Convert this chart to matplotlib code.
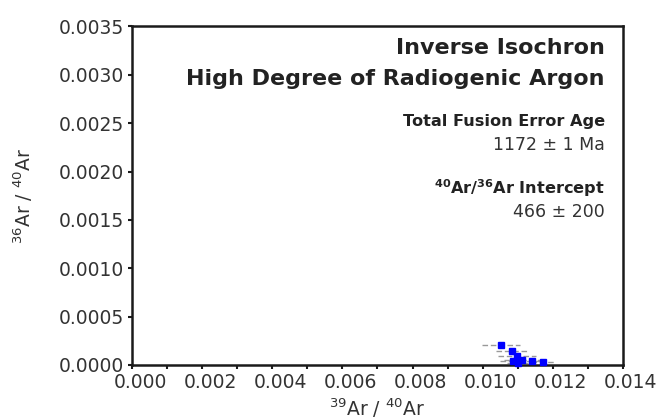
import matplotlib
matplotlib.use("Agg")
import matplotlib.pyplot as plt
import matplotlib.transforms as mtransforms
from matplotlib.ticker import MultipleLocator

plt.rcParams['font.family'] = ['DejaVu Sans']
plt.rcParams['mathtext.fontset'] = 'dejavusans'

# step data
ar39_ar40 = [0.01052, 0.01083, 0.01098, 0.01085, 0.01112, 0.01140, 0.01172, 0.01100]
ar36_ar40 = [0.000205, 0.000140, 0.000095, 0.000040, 0.000055, 0.000045, 0.000030, 0.000020]
x_err = [0.00055, 0.00045, 0.00055, 0.00035, 0.00050, 0.00040, 0.00035, 0.00030]

x_ticks = [0.000, 0.002, 0.004, 0.006, 0.008, 0.010, 0.012, 0.014]
y_ticks = [0.0000, 0.0005, 0.0010, 0.0015, 0.0020, 0.0025, 0.0030, 0.0035]

fig = plt.figure(figsize=(6.69, 4.19), dpi=100)
ax = fig.add_axes([0.1973, 0.1289, 0.7339, 0.8079])

eb = ax.errorbar(ar39_ar40, ar36_ar40, xerr=x_err, fmt='none', ecolor='#999999',
                 elinewidth=1, capsize=0, zorder=2)
eb[2][0].set_linestyle((0, (4, 2)))
ax.plot(ar39_ar40, ar36_ar40, 's', color='#0000ff', markersize=5, zorder=3,
        clip_on=False)

ax.set_xlim(0, 0.014)
ax.set_ylim(0, 0.0035)
ax.set_xticks(x_ticks)
ax.set_xticklabels([f'{v:.3f}' for v in x_ticks])
ax.xaxis.set_minor_locator(MultipleLocator(0.001))
ax.set_yticks(y_ticks)
ax.set_yticklabels([f'{v:.4f}' for v in y_ticks])

for s in ax.spines.values():
    s.set_linewidth(1.8)
    s.set_color('#1a1a1a')
ax.tick_params(which='both', direction='out', length=3, width=1.5, color='#1a1a1a',
               labelsize=13.5, labelcolor='#333333', pad=3)

# x labels sit a bit right of their ticks in the original
off = mtransforms.ScaledTranslation(8 / 100, 0, fig.dpi_scale_trans)
for lab in ax.get_xticklabels():
    lab.set_transform(lab.get_transform() + off)

ax.set_xlabel(r'$^{39}$Ar / $^{40}$Ar', fontsize=13.5, color='#333333', labelpad=3)
ax.set_ylabel(r'$^{36}$Ar / $^{40}$Ar', fontsize=13.5, color='#333333', labelpad=17)

tx = 0.963
big = dict(transform=ax.transAxes, ha='right', va='center', fontsize=16,
           fontweight='bold', color='#222222')
mid = dict(transform=ax.transAxes, ha='right', va='center', fontsize=11.6,
           fontweight='bold', color='#222222')
reg = dict(transform=ax.transAxes, ha='right', va='center', fontsize=12.5,
           color='#333333')
ax.text(tx, 0.936, 'Inverse Isochron', **big)
ax.text(tx, 0.845, 'High Degree of Radiogenic Argon', **big)
ax.text(tx, 0.718, 'Total Fusion Error Age', **mid)
ax.text(tx, 0.650, '1172 ± 1 Ma', **reg)
ax.text(tx, 0.523, r'$\mathbf{^{40}}$Ar/$\mathbf{^{36}}$Ar Intercept', **mid)
ax.text(tx, 0.452, '466 ± 200', **reg)

fig.savefig('out.png', dpi=100)
